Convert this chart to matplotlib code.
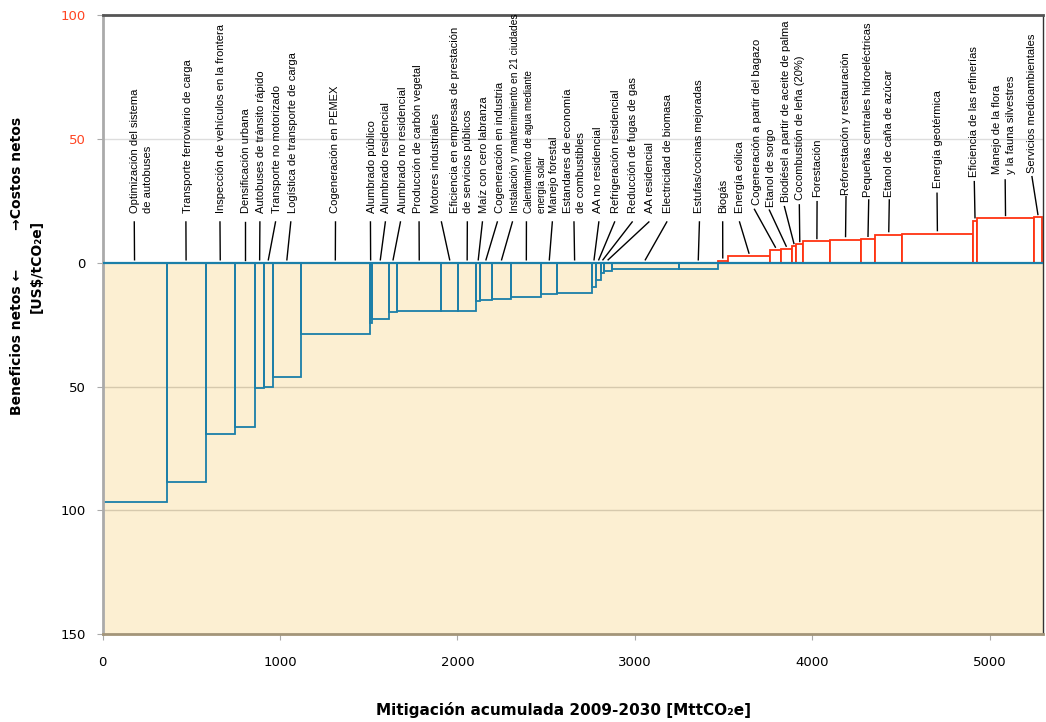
import matplotlib.pyplot as plt

# --- datos: medidas de mitigacion (de izquierda a derecha) ---
medidas = [
    "Optimización del sistema\nde autobuses",
    "Transporte ferroviario de carga",
    "Inspección de vehículos en la frontera",
    "Densificación urbana",
    "Autobuses de tránsito rápido",
    "Transporte no motorizado",
    "Logística de transporte de carga",
    "Cogeneración en PEMEX",
    "Alumbrado público",
    "Alumbrado residencial",
    "Alumbrado no residencial",
    "Producción de carbón vegetal",
    "Motores industriales",
    "Eficiencia en empresas de prestación\nde servicios públicos",
    "Maíz con cero labranza",
    "Cogeneración en industria",
    "Instalación y mantenimiento en 21 ciudades",
    "Calentamiento de agua mediante\nenergía solar",
    "Manejo forestal",
    "Estandares de economía\nde combustibles",
    "AA no residencial",
    "Refrigeración residencial",
    "Reducción de fugas de gas",
    "AA residencial",
    "Electricidad de biomasa",
    "Estufas/cocinas mejoradas",
    "Biogás",
    "Energía eólica",
    "Cogeneración a partir del bagazo",
    "Etanol de sorgo",
    "Biodiésel a partir de aceite de palma",
    "Cocombustión de leña (20%)",
    "Forestación",
    "Reforestación y restauración",
    "Pequeñas centrales hidroeléctricas",
    "Etanol de caña de azúcar",
    "Energía geotérmica",
    "Eficiencia de las refinerías",
    "Manejo de la flora\ny la fauna silvestres",
    "Servicios medioambientales",
]

# mitigacion acumulada por medida [MtCO2e] (ancho de barra)
mitigacion = [361, 220, 165, 116, 47, 51, 158, 388, 10, 99, 45, 250, 93, 104,
              21, 66, 110, 169, 90, 195, 24, 29, 18, 41, 378, 219,
              57, 238, 60, 62, 25, 41, 152, 171, 82, 152, 396, 28, 316, 49]

# costo neto [US$/tCO2e] (negativo = beneficio neto)
costo = [-96.5, -88.7, -69.0, -66.4, -50.6, -50.3, -46.2, -28.6, -24.2, -22.7,
         -19.9, -19.5, -19.4, -19.3, -15.4, -15.0, -14.5, -13.9, -12.8, -12.4,
         -9.8, -6.9, -4.2, -3.5, -2.4, -2.4,
         0.8, 2.7, 5.1, 5.5, 6.6, 7.4, 8.6, 9.4, 9.5, 11.4, 11.8, 17.0, 17.9, 18.3]

# --- posicion de las etiquetas ---
texto_x = [221, 483, 666, 806, 892, 981, 1074, 1309, 1516, 1600, 1694, 1778,
           1882, 2022, 2150, 2238, 2323, 2440, 2542, 2660, 2792, 2891, 2989,
           3083, 3186, 3359, 3495, 3590, 3687, 3768, 3852, 3931, 4030, 4190,
           4312, 4430, 4706, 4912, 5080, 5241]
guia_x = [179, 470, 662, 804, 887, 975, 1061, 1313, 1510, 1594, 1679, 1784,
          1910, 2056, 2141, 2225, 2310, 2389, 2535, 2657, 2797, 2886, 2985,
          3079, 3180, 3364, 3495, 3590, 3674, 3758, 3843, 3927, 4027, 4190,
          4318, 4434, 4703, 4913, 5087, 5238]
texto_y = [20] * 28 + [23.4, 22.7, 24.7, 25.4, 26.7, 27.4, 26.7, 26.7, 30.1,
                       34.8, 36.0, 36.2]
guia_y = [16.5] * 28 + [21.6, 21.3, 22.7, 23.4, 24.7, 26.7, 25.4, 25.4, 28.1,
                        32.8, 33.5, 34.8]

azul = "#1b7fa8"
rojo = "#ff3311"
crema = "#fcefd2"
fuente = ["Liberation Sans", "DejaVu Sans"]

fig = plt.figure(figsize=(10.46, 7.22), dpi=100)
ax = fig.add_axes([0.098, 0.1219, 0.8991, 0.8569])

ax.axhspan(-150, 0, color=crema, zorder=0)
ax.axhline(50, color="#dddddd", lw=1, zorder=0.5)
for g in [-50, -100]:
    ax.axhline(g, color="#d6c9ad", lw=1, zorder=0.5)

izq = [sum(mitigacion[:i]) for i in range(len(mitigacion))]
colores = [rojo if c > 0 else azul for c in costo]
caras = ["white" if c > 0 else "none" for c in costo]
ax.bar(izq, costo, width=mitigacion, align="edge", facecolor=caras,
       edgecolor=colores, linewidth=1.3, zorder=2)
ax.axhline(0, color=azul, lw=1.6, zorder=3)

for i, nombre in enumerate(medidas):
    centro = izq[i] + mitigacion[i] / 2
    abajo = max(costo[i], 0) + 1.2
    ax.plot([guia_x[i], centro], [guia_y[i], abajo], color="black", lw=1,
            zorder=3)
    fs = 8
    if i == 16:
        fs = 7.4
    if i == 17:
        fs = 7
    ax.text(texto_x[i], texto_y[i], nombre, rotation=90, ha="center",
            va="bottom", multialignment="left", fontsize=fs,
            family=fuente, zorder=4, linespacing=1.4)

ax.set_xlim(0, 5300)
ax.set_ylim(-150, 100)
ax.set_xticks([0, 1000, 2000, 3000, 4000, 5000])
ax.set_yticks([-150, -100, -50, 0, 50, 100])
ax.set_yticklabels(["150", "100", "50", "0", "50", "100"])
for t in ax.get_yticklabels()[4:]:
    t.set_color("#ff4422")
ax.tick_params(axis="both", labelsize=9.5, color="#aaaaaa", length=4)
ax.tick_params(axis="y", pad=8)
ax.tick_params(axis="x", pad=12)

ax.spines["top"].set_color("#555555")
ax.spines["top"].set_linewidth(2)
ax.spines["left"].set_color("#aaaaaa")
ax.spines["left"].set_linewidth(2)
ax.spines["bottom"].set_color("#a39579")
ax.spines["bottom"].set_linewidth(2)
ax.spines["right"].set_color("#333333")
ax.spines["right"].set_linewidth(1)

fig.text(0.026, 1 - 266 / 722,
         "Beneficios netos \u2190        \u2192Costos netos\n[US$/tCO\u2082e]",
         rotation=90, ha="center", va="center", multialignment="center",
         fontsize=10, fontweight="bold", family="DejaVu Sans", linespacing=1.5)
fig.text(563 / 1046, 1 - 710 / 722,
         "Mitigación acumulada 2009-2030 [MttCO\u2082e]",
         ha="center", va="center", fontsize=11, fontweight="bold")

fig.savefig("out.png", dpi=100)
